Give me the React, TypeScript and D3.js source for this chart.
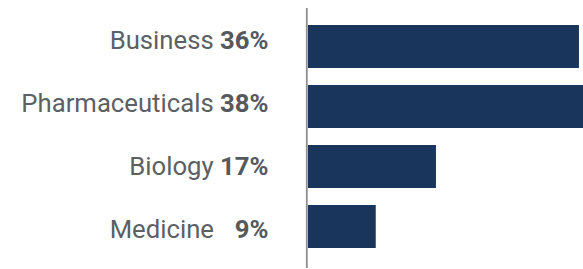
import React from "react";
import * as d3 from "d3";

const categories = ["Business", "Pharmaceuticals", "Biology", "Medicine"];
const values = [36, 38, 17, 9];

const W = 583;
const H = 269;

export default function App() {
  const x = d3.scaleLinear().domain([0, 38]).range([308, 594]);
  const yBar = d3
    .scaleBand<string>()
    .domain(categories)
    .range([16.5, 256.5])
    .paddingInner(0.2833)
    .paddingOuter(0.1417);
  const yLabel = d3.scaleBand<string>().domain(categories).range([8, 260]).padding(0);
  const fontSize = 25.7;
  const capHalf = (0.711 * fontSize) / 2;

  return (
    <svg
      width={W}
      height={H}
      style={{ position: "absolute", left: 0, top: 0, display: "block" }}
      fontFamily="Roboto, 'Noto Sans', sans-serif"
    >
      {categories.map((c, i) => (
        <rect
          key={c}
          x={x(0)}
          y={yBar(c)!}
          width={x(values[i]) - x(0)}
          height={yBar.bandwidth()}
          fill="#19355c"
        />
      ))}
      <line x1={306.8} x2={306.8} y1={8} y2={268} stroke="#8e8e8e" strokeWidth={1.8} />
      {categories.map((c, i) => (
        <text
          key={c}
          x={268.5}
          y={yLabel(c)! + yLabel.bandwidth() / 2 + capHalf}
          textAnchor="end"
          fontSize={fontSize}
          fill="#5c5f64"
        >
          {c + " "}
          <tspan fontWeight="bold" fill="#55585d">
            {String(values[i]).padStart(2, "\u2007") + "%"}
          </tspan>
        </text>
      ))}
    </svg>
  );
}
